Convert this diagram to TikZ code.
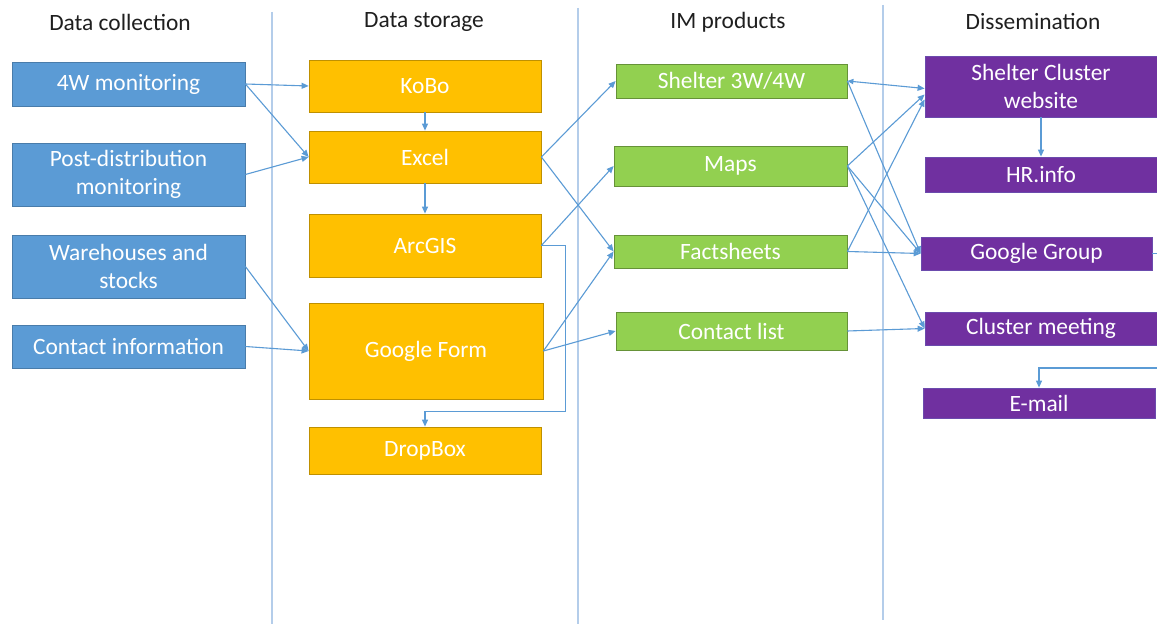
\documentclass[tikz,border=0pt]{standalone}
\usepackage{fontspec}
\setmainfont{Carlito}
\usetikzlibrary{arrows.meta}
\definecolor{cblue}{HTML}{5B9BD5}
\definecolor{corange}{HTML}{FFC000}
\definecolor{cgreen}{HTML}{92D050}
\definecolor{cpurple}{HTML}{7030A0}
\definecolor{cline}{HTML}{5B9BD5}
\definecolor{cdiv}{HTML}{B4CDEA}
\begin{document}
\begin{tikzpicture}[x=0.5pt,y=-0.5pt,
  box/.style={rectangle, inner sep=1pt, text=white, align=center,
    font=\fontsize{11.7}{14}\selectfont, line width=0.4pt},
  bluebox/.style={box, fill=cblue, draw=cblue!80!black, minimum width=116.5pt},
  orangebox/.style={box, fill=corange, draw=corange!75!black, minimum width=116pt},
  greenbox/.style={box, fill=cgreen, draw=cgreen!70!black, minimum width=116pt},
  purplebox/.style={box, fill=cpurple, draw=cpurple!75!cblue, minimum width=116pt},
  hdr/.style={text=black!88, font=\fontsize{11.7}{14}\selectfont},
  conn/.style={draw=cline, line width=0.55pt, -{Triangle[length=3.5pt,width=3pt]}},
  bconn/.style={draw=cline, line width=0.55pt, {Triangle[length=3pt,width=2.6pt]}-{Triangle[length=3.5pt,width=3pt]}},
  divider/.style={draw=cdiv, line width=1pt}]
\fill[white] (0,0) rectangle (1157,624);
\useasboundingbox (0,0) rectangle (1157,624);

% dividers
\draw[divider] (272,12) -- (272,624);
\draw[divider] (578,8) -- (578,624);
\draw[divider] (883,5) -- (883,620);

% headers
\node[hdr] (h1) at (120,22) {Data collection};
\node[hdr] (h2) at (424,22) {Data storage};
\node[hdr] (h3) at (728,22) {IM products};
\node[hdr] (h4) at (1033,22) {Dissemination};

% data collection
\node[bluebox, minimum height=22pt] (c1) at (128.5,84) {4W monitoring};
\node[bluebox, minimum height=31.5pt] (c2) at (128.5,174.5) {Post-distribution\\monitoring};
\node[bluebox, minimum height=31.5pt] (c3) at (128.5,266.5) {Warehouses and\\stocks};
\node[bluebox, minimum height=21.5pt] (c4) at (128.5,346.5) {Contact information};

% data storage
\node[orangebox, minimum height=26pt] (kobo) at (425,86) {KoBo};
\node[orangebox, minimum height=26pt] (excel) at (425,157) {Excel};
\node[orangebox, minimum height=31.5pt] (arcgis) at (425,245.5) {ArcGIS};
\node[orangebox, minimum width=117pt, minimum height=48pt] (gform) at (426,351) {Google Form};
\node[orangebox, minimum height=23.5pt] (dropbox) at (425,450.5) {DropBox};

% IM products
\node[greenbox, minimum width=115.5pt, minimum height=17pt] (s3w) at (731.5,81) {Shelter 3W/4W};
\node[greenbox, minimum width=116.5pt, minimum height=20pt] (maps) at (730.5,166) {Maps};
\node[greenbox, minimum width=116.5pt, minimum height=16.5pt] (fact) at (730.5,251.5) {Factsheets};
\node[greenbox, minimum width=115.5pt, minimum height=19pt] (contact) at (731.5,331) {Contact list};

% dissemination
\node[purplebox, minimum height=30.5pt] (web) at (1041,86.5) {Shelter Cluster\\website};
\node[purplebox, minimum height=17.5pt] (hr) at (1041,174.5) {HR.info};
\node[purplebox, minimum width=115.5pt, minimum height=16.5pt] (gg) at (1036.5,253.5) {Google Group};
\node[purplebox, minimum height=16.5pt] (cm) at (1041,328.5) {Cluster meeting};
\node[purplebox, minimum height=15pt] (email) at (1039,403) {E-mail};

\coordinate (ggout) at (1157.5,253.5);
\coordinate (emin) at (1157.5,368);

% collection -> storage
\draw[conn] (c1.east) -- (kobo.west);
\draw[conn] (c1.east) -- (excel.west);
\draw[conn] (c2.east) -- (excel.west);
\draw[conn] (c3.east) -- (gform.west);
\draw[conn] (c4.east) -- (gform.west);

% storage internal
\draw[conn] (kobo.south) -- (excel.north);
\draw[conn] (excel.south) -- (arcgis.north);
\draw[conn] (arcgis.east) -- ++(12pt,0) |- ([yshift=7.5pt]dropbox.north) -- (dropbox.north);

% storage -> IM
\draw[conn] (excel.east) -- (s3w.west);
\draw[conn] (excel.east) -- (fact.west);
\draw[conn] (arcgis.east) -- (maps.west);
\draw[conn] (gform.east) -- (fact.west);
\draw[conn] (gform.east) -- (contact.west);

% IM -> dissemination
\draw[bconn] (s3w.east) -- ([yshift=-1pt]web.west);
\draw[conn] (s3w.east) -- (gg.west);
\draw[conn] (maps.east) -- ([yshift=-4pt]web.west);
\draw[conn] (maps.east) -- (gg.west);
\draw[conn] (maps.east) -- (cm.west);
\draw[conn] (fact.east) -- ([yshift=-6.5pt]web.west);
\draw[conn] (fact.east) -- (gg.west);
\draw[conn] (contact.east) -- (cm.west);

% dissemination internal
\draw[conn] (web.south) -- (hr.north);
\draw[draw=cline, line width=0.55pt] (gg.east) -- (ggout);
\draw[conn] (emin) -| (email.north);
\end{tikzpicture}
\end{document}
